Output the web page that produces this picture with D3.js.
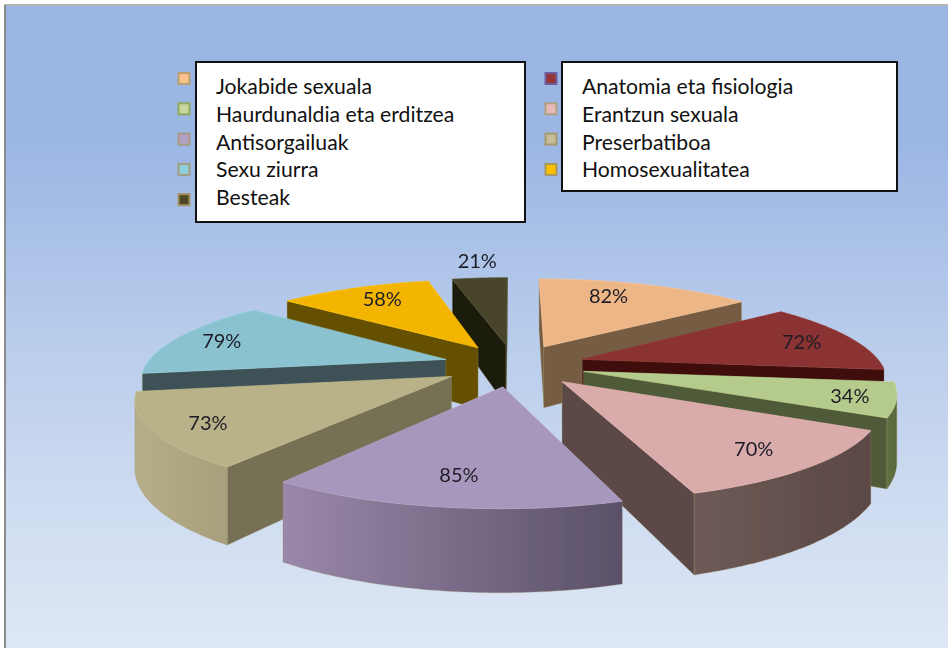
<!DOCTYPE html>
<html>
<head>
<meta charset="utf-8">
<script src="https://cdn.jsdelivr.net/npm/d3@7/dist/d3.min.js"></script>
<style>
html,body{margin:0;padding:0;background:#fff;overflow:hidden}
svg{display:block}
text{font-family:Lato,"Open Sans",sans-serif}
</style>
</head>
<body>
<svg id="c" width="948" height="648"></svg>
<script>
const categories = ["Jokabide sexuala","Anatomia eta fisiologia","Haurdunaldia eta erditzea","Erantzun sexuala","Antisorgailuak","Preserbatiboa","Sexu ziurra","Homosexualitatea","Besteak"];
const values = [82,72,34,70,85,73,79,58,21];
const topColors  = ["#EDB686","#8B3130","#B5CB8B","#DAABAB","#A897BC","#B9B188","#8AC2D0","#F3B500","#4A452A"];
const cutColors  = ["#755C42","#3F1110","#505A38","#5B4A46","#6A5C78","#767055","#3E5157","#655000","#1D1B10"];
const wallLeft   = ["#755C42","#3F1110","#5F7040","#6E5A56","#9A88AA","#B6AE88","#3E5157","#655000","#1D1B10"];
const wallRight  = ["#755C42","#3F1110","#5A683C","#5B4845","#5A5068","#A8A07C","#3E5157","#655000","#1D1B10"];
const swatchColors = ["#F9C08E","#963634","#C6D99B","#E6B8B7","#B3A2C7","#C4BD97","#92CDDC","#FFC000","#4F4825"];
const swatchEdges  = ["#B9A070","#6E5EA0","#8FA860","#B0A080","#A89880","#A39A70","#A0A080","#A89860","#A09060"];
const labelNudges  = [[-12,-4],[25,-1],[45,5],[23,9],[-3,7],[-35,8],[-29,-2],[-3,-4],[-9,-34]];
const paintOrder   = [8,0,7,6,1,5,2,3,4];
const explode = 0.24;

const W = 948, H = 648;
const svg = d3.select("#c");
const defs = svg.append("defs");

const bg = defs.append("linearGradient").attr("id","bg").attr("x1",0).attr("x2",0).attr("y1",0).attr("y2",1);
[[0,"#9AB5E3"],[0.22,"#9DB7E4"],[0.5,"#B7CBEB"],[0.75,"#CDDAF0"],[1,"#DEE7F5"]]
  .forEach(([o,c])=>bg.append("stop").attr("offset",o).attr("stop-color",c));
defs.append("filter").attr("id","soft").attr("x","-5%").attr("y","-5%").attr("width","110%").attr("height","110%")
  .append("feGaussianBlur").attr("stdDeviation",0.55);

svg.append("rect").attr("x",0).attr("y",0).attr("width",W).attr("height",H).attr("fill","#fff");
svg.append("rect").attr("x",6).attr("y",6).attr("width",W-6).attr("height",H-6).attr("fill","url(#bg)");
svg.append("line").attr("x1",4).attr("x2",W).attr("y1",5).attr("y2",5).attr("stroke","#B4B4B4").attr("stroke-width",2);
svg.append("line").attr("x1",5).attr("x2",5).attr("y1",5).attr("y2",H).attr("stroke","#8C8C8C").attr("stroke-width",2);

// perspective projection of the tilted pie plane
const CX=514, CY=365, A=0.00334, B=0.00066, T=0.293, DEPTH=0.212;
const project=(x,y,z)=>{const w=A+B*y;return [CX+x/w, CY-(T*y-(z?DEPTH:0))/w];};

const arcs = d3.pie().sort(null).startAngle(0).endAngle(2*Math.PI)(values);
const line = d3.line();
const chart = svg.append("g").attr("filter","url(#soft)");

paintOrder.forEach(i=>{
  const a = arcs[i], mid=(a.startAngle+a.endAngle)/2;
  const ox=explode*Math.sin(mid), oy=explode*Math.cos(mid);
  const thetas=d3.range(0,61).map(k=>a.startAngle+(a.endAngle-a.startAngle)*k/60);
  const pt=(t)=>[ox+Math.sin(t),oy+Math.cos(t)];
  const g=chart.append("g");
  const stroke=d3.color(topColors[i]).brighter(0.2).formatHex();
  const face=(p,q,fill)=>{
    const a1=project(p[0],p[1],0),a2=project(q[0],q[1],0);
    if(a2[0]>=a1[0]) return;
    g.append("path").attr("d",line([a1,a2,project(q[0],q[1],1),project(p[0],p[1],1)])+"Z")
      .attr("fill",fill).attr("stroke","#9A9468").attr("stroke-opacity",0.45).attr("stroke-width",0.7);
  };
  // cut faces
  face([ox,oy],pt(a.startAngle),cutColors[i]);
  face(pt(a.endAngle),[ox,oy],cutColors[i]);
  // outer wall: only samples that turn toward the viewer
  const tops=thetas.map(t=>{const p=pt(t);return {t:project(p[0],p[1],0),b:project(p[0],p[1],1)};});
  const vis=[];
  for(let k=0;k<tops.length-1;k++){
    if(tops[k+1].t[0]<tops[k].t[0]){ if(!vis.length) vis.push(tops[k]); vis.push(tops[k+1]); }
  }
  if(vis.length>1){
    const gid="wall"+i;
    const lg=defs.append("linearGradient").attr("id",gid).attr("x1",0).attr("x2",1).attr("y1",0).attr("y2",0);
    lg.append("stop").attr("offset",0).attr("stop-color",wallLeft[i]);
    lg.append("stop").attr("offset",1).attr("stop-color",wallRight[i]);
    g.append("path").attr("d",line(vis.map(v=>v.t).concat(vis.map(v=>v.b).reverse()))+"Z")
      .attr("fill",`url(#${gid})`).attr("stroke","#9A9468").attr("stroke-opacity",0.45).attr("stroke-width",0.7);
  }
  // top
  const ring=[project(ox,oy,0)].concat(thetas.map(t=>{const p=pt(t);return project(p[0],p[1],0);}));
  g.append("path").attr("d",line(ring)+"Z").attr("fill",topColors[i])
    .attr("stroke",stroke).attr("stroke-width",0.7);
});

// value labels
const labelGroup=svg.append("g").attr("filter","url(#soft)");
arcs.forEach((a,i)=>{
  const mid=(a.startAngle+a.endAngle)/2, r=explode+0.72;
  const p=project(r*Math.sin(mid),r*Math.cos(mid),0);
  labelGroup.append("text").attr("x",p[0]+labelNudges[i][0]).attr("y",p[1]+labelNudges[i][1]+7)
    .attr("text-anchor","middle").attr("font-size",20).attr("fill","#1E1E28").text(values[i]+"%");
});

// legend
const columns=[{box:[196,62,329,160],sw:184,tx:216,idx:[0,2,4,6,8]},
               {box:[562,62,335,129],sw:551,tx:582,idx:[1,3,5,7]}];
const rowY=d3.scaleLinear().domain([0,1]).range([94,121.8]);
const swY=d3.scaleLinear().domain([0,1]).range([78.5,108.8]);
columns.forEach(c=>{
  c.idx.forEach((i,r)=>{
    svg.append("rect").attr("x",c.sw-5.5).attr("y",swY(r)-5.5).attr("width",11).attr("height",11)
      .attr("fill",swatchColors[i]).attr("stroke",swatchEdges[i]).attr("stroke-width",2);
  });
  svg.append("rect").attr("x",c.box[0]).attr("y",c.box[1]).attr("width",c.box[2]).attr("height",c.box[3])
    .attr("fill","#fff").attr("stroke","#111").attr("stroke-width",2);
  c.idx.forEach((i,r)=>{
    svg.append("text").attr("x",c.tx).attr("y",rowY(r)).attr("font-size",21.2).attr("fill","#111").text(categories[i]);
  });
});
</script>
</body>
</html>
